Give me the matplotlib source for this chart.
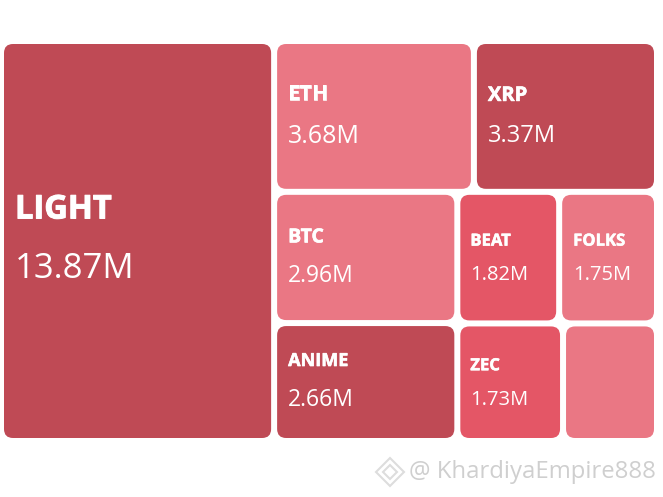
import matplotlib
matplotlib.use("Agg")
import matplotlib.pyplot as plt
import matplotlib.patheffects as pe
from matplotlib.patches import FancyBboxPatch, Polygon

# tile data, sizes are read off the tile areas (small tiles are not to label scale)
names = ["LIGHT", "ETH", "XRP", "BTC", "ANIME", "BEAT", "FOLKS", "ZEC", ""]
labels = ["13.87M", "3.68M", "3.37M", "2.96M", "2.66M", "1.82M", "1.75M", "1.73M", ""]
sizes = [13.45, 3.71, 3.40, 2.96, 2.66, 1.65, 1.585, 1.53, 1.36]
shades = ["dark", "mid", "dark", "mid", "dark", "bright", "mid", "bright", "mid"]

COLORS = {"dark": "#BF4A55", "mid": "#EA7784", "bright": "#E45666"}
FONT = ["Open Sans", "DejaVu Sans"]
GAP = 6

# text styling per tile: name size, value size, name offset, value offset, left pad
TEXT_STYLE = {
    "LIGHT": (23.5, 25, -31, 28, 11),
    "ETH": (15, 18, -22, 20, 11),
    "XRP": (14.5, 17, -20.5, 20, 11),
    "BTC": (14, 16.5, -20, 19, 11),
    "ANIME": (13, 16.5, -21, 18, 11),
    "BEAT": (12, 14.5, -17, 17, 10),
    "FOLKS": (12, 14.5, -17, 17, 11),
    "ZEC": (12, 14.5, -17, 17.5, 10),
}

# nested slicing: "h" splits left-right, "v" splits top-bottom, ints index the tiles
LAYOUT = ("h", 0, ("v", ("h", 1, 2),
                   ("h", ("v", 3, 4),
                    ("v", ("h", 5, 6), ("h", 7, 8)))))


def total(node):
    if isinstance(node, int):
        return sizes[node]
    return sum(total(child) for child in node[1:])


def place(node, x, y, w, h, out):
    if isinstance(node, int):
        out[node] = (x, y, w, h)
        return
    weight = total(node)
    for child in node[1:]:
        part = total(child) / weight
        if node[0] == "h":
            place(child, x, y, w * part, h, out)
            x += w * part
        else:
            place(child, x, y, w, h * part, out)
            y += h * part


fig, ax = plt.subplots(figsize=(6.63, 4.97), dpi=100)
fig.subplots_adjust(0, 0, 1, 1)
ax.set_xlim(0, 663)
ax.set_ylim(497, 0)
ax.axis("off")

tiles = {}
place(LAYOUT, 4, 44, 650 + GAP, 394 + GAP, tiles)

for i, name in enumerate(names):
    x, y, w, h = tiles[i]
    w -= GAP
    h -= GAP
    ax.add_patch(FancyBboxPatch((x, y), w, h, boxstyle="round,pad=0,rounding_size=9",
                                facecolor=COLORS[shades[i]], edgecolor="none"))
    if not name:
        continue
    name_fs, value_fs, name_dy, value_dy, pad = TEXT_STYLE[name]
    mid = y + h / 2
    bold = ax.text(x + pad, mid + name_dy, name, color="white", fontsize=name_fs, fontweight="bold",
                   family=FONT, ha="left", va="center")
    bold.set_path_effects([pe.withStroke(linewidth=name_fs * 0.03, foreground="white")])
    ax.text(x + pad, mid + value_dy, labels[i], color="white", fontsize=value_fs,
            family=FONT, ha="left", va="center")

# watermark
ax.text(409, 472, "@ KhardiyaEmpire888", color="#CFCFCF", fontsize=17.2, family=FONT,
        ha="left", va="center")
for cx, cy, r in [(390, 472, 14), (390, 472, 7)]:
    ax.add_patch(Polygon([(cx - r, cy), (cx, cy - r), (cx + r, cy), (cx, cy + r)], closed=True,
                         facecolor="none", edgecolor="#DDDDDD", lw=1.5))

fig.savefig("out.png", dpi=100)
